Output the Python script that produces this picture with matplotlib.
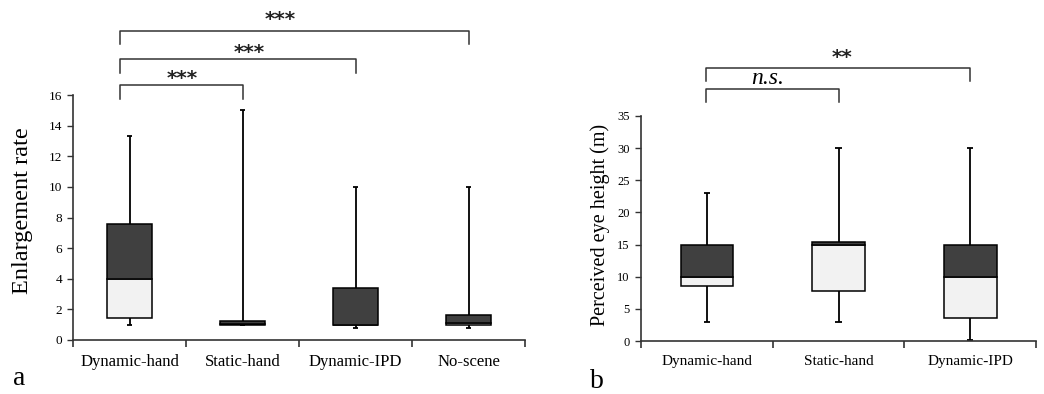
import matplotlib.pyplot as plt
import numpy as np

# Panel a: enlargement rate
cats_a = ['Dynamic-hand', 'Static-hand', 'Dynamic-IPD', 'No-scene']
low_a = [1.0, 1.0, 0.8, 0.8]
q1_a = [1.45, 1.0, 1.0, 1.0]
med_a = [4.0, 1.02, 1.0, 1.08]
q3_a = [7.55, 1.27, 3.4, 1.63]
high_a = [13.3, 15.0, 10.0, 10.0]

# Panel b: perceived eye height
cats_b = ['Dynamic-hand', 'Static-hand', 'Dynamic-IPD']
low_b = [3.0, 3.0, 0.1]
q1_b = [8.5, 7.8, 3.6]
med_b = [10.0, 15.0, 10.0]
q3_b = [15.0, 15.4, 15.0]
high_b = [23.0, 30.0, 30.0]

# significance brackets: (left, right, leg bottom, top, label, label x, label y)
sig_a = [(0, 1, 15.75, 16.65, '***', 0.47, 17.1),
         (0, 2, 17.45, 18.35, '***', 1.06, 18.8),
         (0, 3, 19.3, 20.2, '***', 1.33, 20.9)]
sig_b = [(0, 1, 37.2, 39.2, 'n.s.', 0.46, 40.9),
         (0, 2, 40.4, 42.5, '**', 1.03, 44.1)]

DARK = '#404040'
LIGHT = '#f2f2f2'
AX = '#333333'

plt.rcParams['font.family'] = ['Liberation Serif', 'DejaVu Serif']


def draw_boxes(ax, low, q1, med, q3, high, width):
    x = np.arange(len(low))
    low, q1, med, q3, high = map(np.array, (low, q1, med, q3, high))
    # whiskers
    ax.vlines(x, q3, high, color='black', lw=1.3, zorder=1)
    ax.vlines(x, low, q1, color='black', lw=1.3, zorder=1)
    ax.hlines(high, x - 0.025, x + 0.025, color='black', lw=1.3)
    ax.hlines(low, x - 0.025, x + 0.025, color='black', lw=1.3)
    ax.bar(x, med - q1, width, bottom=q1, color=LIGHT, edgecolor='black', lw=1.1, zorder=2)
    ax.bar(x, q3 - med, width, bottom=med, color=DARK, edgecolor='black', lw=1.1, zorder=2)


def style(ax, cats, top, step, xfs, yfs):
    n = len(cats)
    ax.set_xlim(-0.5, n - 0.5)
    ax.set_ylim(0, top)
    ax.set_yticks(np.arange(0, top + 0.1, step))
    ax.set_xticks(np.arange(n))
    ax.set_xticklabels(cats, fontsize=xfs)
    ax.set_xticks(np.arange(n + 1) - 0.5, minor=True)
    ax.tick_params(axis='x', which='major', length=0, pad=10)
    ax.tick_params(axis='x', which='minor', length=5, width=1.2, color=AX, direction='out')
    ax.tick_params(axis='y', labelsize=yfs, length=4, width=1, color=AX, pad=4)
    for s in ['top', 'right']:
        ax.spines[s].set_visible(False)
    for s in ['left', 'bottom']:
        ax.spines[s].set_color(AX)
        ax.spines[s].set_linewidth(1.2)


def brackets(ax, sig, dx):
    for l, r, y0, y1, lab, tx, ty in sig:
        ax.plot([l - dx, l - dx, r, r], [y0, y1, y1, y0], color=AX, lw=1.1, clip_on=False)
        if lab == 'n.s.':
            ax.text(tx, ty, lab, ha='center', va='center', style='italic', fontsize=17)
        else:
            ax.text(tx, ty, lab, ha='center', va='center', fontsize=14.5,
                    family='DejaVu Sans', fontweight='bold', color='#222222')


fig = plt.figure(figsize=(10.44, 3.94), dpi=100)
ax_a = fig.add_axes([73 / 1044, 1 - 340 / 394, 452 / 1044, 245 / 394])
ax_b = fig.add_axes([641 / 1044, 1 - 341 / 394, 395 / 1044, 225 / 394])

draw_boxes(ax_a, low_a, q1_a, med_a, q3_a, high_a, 0.39)
style(ax_a, cats_a, 16, 2, 12, 9.5)
ax_a.set_ylabel('Enlargement rate', fontsize=17.5)
ax_a.yaxis.set_label_coords(-0.088, 0.527)
brackets(ax_a, sig_a, 0.08)

draw_boxes(ax_b, low_b, q1_b, med_b, q3_b, high_b, 0.40)
style(ax_b, cats_b, 35, 5, 11, 9)
ax_b.set_ylabel('Perceived eye height (m)', fontsize=14.5)
ax_b.yaxis.set_label_coords(-0.078, 0.516)
brackets(ax_b, sig_b, 0.01)

fig.text(13 / 1044, 1 - 385 / 394, 'a', fontsize=20, ha='left', va='baseline')
fig.text(590 / 1044, 1 - 388 / 394, 'b', fontsize=20, ha='left', va='baseline')

fig.savefig('out.png', dpi=100)
